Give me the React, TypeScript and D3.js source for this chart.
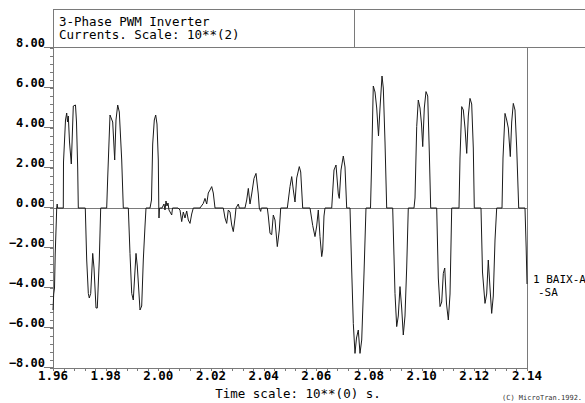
import React from "react";
import * as d3 from "d3";

const time = [
  1.96, 1.96027, 1.96057, 1.96084, 1.96122, 1.96141, 1.96159, 1.96175, 1.96391, 1.96399,
  1.96475, 1.9652, 1.96551, 1.96581, 1.96627, 1.96695, 1.96722, 1.96771, 1.96854, 1.96892,
  1.96938, 1.96961, 1.97226, 1.9728, 1.97341, 1.97378, 1.97432, 1.97508, 1.97557, 1.97633,
  1.97682, 1.97758, 1.97811, 1.98039, 1.98077, 1.98165, 1.98267, 1.98343, 1.98392, 1.98457,
  1.98518, 1.98609, 1.9867, 1.9886, 1.98924, 1.98989, 1.99049, 1.99152, 1.99201, 1.99304,
  1.99368, 1.99429, 1.99494, 1.99532, 1.99684, 1.9974, 1.99786, 1.99847, 1.999, 1.99949,
  1.99999, 2.00018, 2.00025, 2.00044, 2.00139, 2.00215, 2.00253, 2.00291, 2.00329, 2.00367,
  2.00405, 2.00508, 2.00538, 2.00747, 2.00823, 2.00887, 2.00948, 2.01013, 2.01077, 2.01138,
  2.01203, 2.01267, 2.01328, 2.01582, 2.01708, 2.01772, 2.01837, 2.01897, 2.01962, 2.02027,
  2.02087, 2.02152, 2.02467, 2.02532, 2.02596, 2.02657, 2.02721, 2.02786, 2.02847, 2.02912,
  2.02949, 2.03037, 2.03075, 2.03291, 2.03356, 2.03417, 2.03481, 2.03546, 2.03633, 2.03709,
  2.03796, 2.03834, 2.03887, 2.0391, 2.04138, 2.04176, 2.04241, 2.04305, 2.04366, 2.0443,
  2.04518, 2.04594, 2.04647, 2.04898, 2.05, 2.05065, 2.05126, 2.0519, 2.05255, 2.05353,
  2.05407, 2.05482, 2.0576, 2.05862, 2.05949, 2.06014, 2.06075, 2.06139, 2.06204, 2.06242,
  2.06291, 2.06329, 2.06584, 2.06671, 2.06747, 2.06834, 2.06872, 2.06937, 2.07024, 2.07089,
  2.07153, 2.07279, 2.07343, 2.07404, 2.07468, 2.07525, 2.07594, 2.07658, 2.07723, 2.0781,
  2.07886, 2.08057, 2.08095, 2.08163, 2.08228, 2.08293, 2.08361, 2.08418, 2.08494, 2.08543,
  2.08608, 2.08672, 2.089, 2.08987, 2.09052, 2.09112, 2.09177, 2.09241, 2.09302, 2.09367,
  2.09431, 2.09492, 2.09709, 2.09747, 2.09812, 2.09872, 2.09937, 2.09994, 2.1004, 2.101,
  2.10165, 2.1023, 2.1029, 2.10343, 2.10571, 2.10632, 2.10697, 2.10761, 2.10822, 2.10876,
  2.10944, 2.11013, 2.11077, 2.11141, 2.11418, 2.11456, 2.11521, 2.11582, 2.11646, 2.11711,
  2.11771, 2.11836, 2.119, 2.11961, 2.11999, 2.12253, 2.1231, 2.12405, 2.12469, 2.1253,
  2.12595, 2.12659, 2.1272, 2.12785, 2.12849, 2.13051, 2.13089, 2.13165, 2.13229, 2.1329,
  2.13366, 2.13419, 2.1348, 2.13544, 2.13609, 2.13685, 2.13924, 2.13969, 2.14,
];

const current = [
  -5.1, -4.3, -4.0, -2.3, -0.8, 0, 0.2, 0, 0, 2.3,
  4.4, 4.75, 4.3, 4.6, 3.3, 2.2, 3.2, 5.1, 5.15, 4.3,
  2.0, 0, 0, -2.6, -4.27, -4.5, -4.27, -2.27, -3.0, -5.0,
  -5.0, -2.6, 0, 0, 1.5, 4.65, 4.3, 2.4, 4.4, 5.15,
  4.8, 2.4, 0, 0, -2.27, -4.27, -4.6, -2.27, -2.9, -5.1,
  -4.9, -2.6, -0.9, 0, 0, 0.4, 3.2, 4.4, 4.65, 4.2,
  2.4, 0, -0.5, 0, 0, 0.2, -0.1, 0.35, 0.1, 0.25,
  -0.1, -0.35, 0, 0, -0.1, -0.68, -0.2, -0.5, -0.15, -0.6,
  -0.77, -0.3, 0, 0, 0.23, 0.48, 0.2, 0.75, 0.9, 1.07,
  0.75, 0, 0, -0.5, -0.77, -0.1, -0.2, -0.85, -1.18, -0.5,
  0, 0.2, 0, 0, 0.4, 0.98, 0.2, 0.7, 1.48, 1.73,
  0.7, 0, -0.17, 0, 0, -0.4, -1.27, -1.33, -0.35, -0.6,
  -1.93, -1.1, 0, 0, 1.07, 1.57, 0.9, 0.3, 1.5, 2.07,
  1.8, 0, 0, -0.87, -1.43, -0.9, -0.1, -1.43, -2.43, -2.1,
  -0.4, 0, 0, 1.9, 2.15, 0.7, 0.48, 1.9, 2.6, 2.05,
  0, 0, -3.1, -5.77, -7.27, -6.5, -6.1, -7.27, -6.6, -3.3,
  0, 0, 2.0, 6.1, 5.8, 5.0, 3.6, 5.0, 6.6, 6.0,
  3.3, 0, 0, -4.27, -5.93, -5.4, -3.93, -5.0, -6.35, -5.4,
  -3.0, 0, 0, 0.5, 4.07, 5.4, 5.0, 4.2, 3.07, 5.0,
  5.82, 5.6, 2.8, 0, 0, -3.5, -4.93, -4.7, -3.27, -3.0,
  -4.8, -5.6, -4.3, 0, 0, 2.5, 5.07, 4.9, 4.0, 2.73,
  4.6, 5.48, 5.2, 3.0, 0, 0, -3.2, -4.77, -4.3, -2.6,
  -4.0, -5.27, -4.4, -1.6, 0, 0, 2.5, 4.73, 4.4, 4.0,
  2.57, 4.3, 5.23, 4.9, 3.0, 0, 0, -2.0, -3.8,
];

const yMajorTicks = [8, 6, 4, 2, 0, -2, -4, -6, -8];
const xMajorTicks = [1.96, 1.98, 2.0, 2.02, 2.04, 2.06, 2.08, 2.1, 2.12, 2.14];
const titleLines = ["3-Phase PWM Inverter", "Currents. Scale: 10**(2)"];
const xTitle = "Time scale: 10**(0) s.";
const seriesLabel = ["1 BAIX-A", "-SA"];
const credit = "(C) MicroTran.1992.";

const FRAME = "#7a7a7a";
const MONO = "'DejaVu Sans Mono', 'Liberation Mono', monospace";

export default function App() {
  const W = 585;
  const H = 403;
  const left = 53;
  const right = 527;
  const top = 48;
  const bottom = 368;
  const x = d3.scaleLinear().domain([1.96, 2.14]).range([left, right]);
  const y = d3.scaleLinear().domain([-8, 8]).range([bottom, top]);

  const pts: [number, number][] = time.map((t, i) => [t, current[i]]);
  const linePath =
    d3
      .line<[number, number]>()
      .x((d) => x(d[0]))
      .y((d) => y(d[1]))(pts) || "";

  const yMinor = d3.range(0, 41).map((i) => -8 + i * 0.4);
  const xMinor = d3.range(0, 46).map((i) => 1.96 + i * 0.004);
  const fy = d3.format(".2f");
  const fx = d3.format(".2f");

  return (
    <svg
      width={W}
      height={H}
      style={{ position: "absolute", left: 0, top: 0, background: "#fff" }}
      viewBox={`0 0 ${W} ${H}`}
    >
      <rect x={0} y={0} width={W} height={H} fill="#fff" />
      <g stroke={FRAME} strokeWidth={1} shapeRendering="crispEdges" fill="none">
        <line x1={left} x2={W} y1={9.5} y2={9.5} />
        <line x1={left} x2={W} y1={y(8) - 0.5} y2={y(8) - 0.5} />
        <line x1={354.5} x2={354.5} y1={9.5} y2={y(8)} />
        <line x1={left + 0.5} x2={left + 0.5} y1={9.5} y2={bottom + 0.5} />
        <line x1={right + 0.5} x2={right + 0.5} y1={y(8)} y2={bottom + 0.5} />
        <line x1={left} x2={right + 1} y1={bottom + 0.5} y2={bottom + 0.5} />
        <line x1={left} x2={right} y1={y(0) + 0.5} y2={y(0) + 0.5} />
        {yMinor.map((v, i) => (
          <line key={"ym" + i} x1={left - 3} x2={left} y1={Math.round(y(v)) + 0.5} y2={Math.round(y(v)) + 0.5} />
        ))}
        {yMajorTicks.map((v) => (
          <line key={"yM" + v} x1={left - 9} x2={left} y1={Math.round(y(v)) - 0.5} y2={Math.round(y(v)) - 0.5} />
        ))}
        {xMinor.map((v, i) => (
          <line key={"xm" + i} x1={Math.round(x(v)) + 0.5} x2={Math.round(x(v)) + 0.5} y1={bottom + 1} y2={bottom + 3} />
        ))}
      </g>

      <path d={linePath} fill="none" stroke="#1a1a1a" strokeWidth={1} strokeLinejoin="round" />

      <g fontFamily={MONO} fontSize={12.5} fill="#000">
        <text x={59} y={25.5}>{titleLines[0]}</text>
        <text x={59} y={39}>{titleLines[1]}</text>
      </g>

      <g fontFamily={MONO} fontSize={12} fontWeight="bold" fill="#000" textAnchor="end">
        {yMajorTicks.map((v) => (
          <text key={"yl" + v} x={45} y={Math.round(y(v)) - 1}>
            {fy(v)}
          </text>
        ))}
      </g>

      <g fontFamily={MONO} fontSize={12.5} fontWeight="bold" fill="#000" textAnchor="middle">
        {xMajorTicks.map((v) => (
          <text key={"xl" + v} x={x(v)} y={380}>
            {fx(v)}
          </text>
        ))}
        <text x={298} y={398} fontWeight="normal">{xTitle}</text>
      </g>

      <g fontFamily={MONO} fontSize={11} fill="#000">
        <text x={533} y={283}>{seriesLabel[0]}</text>
        <text x={538} y={295.5}>{seriesLabel[1]}</text>
      </g>

      <text x={502} y={400} fontFamily={MONO} fontSize={7} fill="#333">
        {credit}
      </text>
    </svg>
  );
}
